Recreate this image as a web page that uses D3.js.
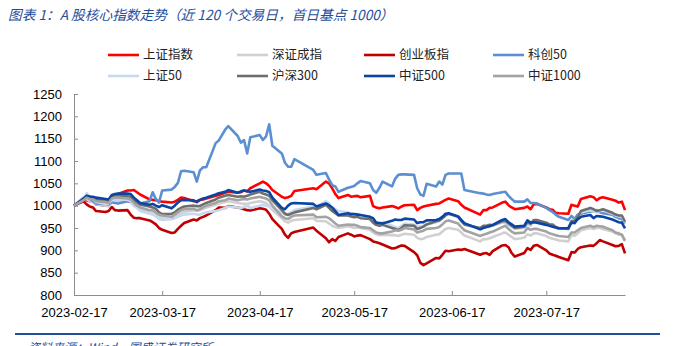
<!DOCTYPE html>
<html lang="zh">
<head>
<meta charset="UTF-8">
<title>A股核心指数走势</title>
<script src="https://d3js.org/d3.v7.min.js"></script>
<style>
  body{margin:0;background:#fff;}
  svg text{font-family:"Liberation Sans","Noto Sans CJK SC",sans-serif;}
  .axis path,.axis line{stroke:#8c8c8c;}
  .axis text{font-size:13px;fill:#000;}
  .legend text{font-family:"Noto Sans CJK SC",sans-serif;font-size:12.5px;fill:#222;}
</style>
</head>
<body>
<svg id="chart" width="684" height="346"></svg>
<script>
// trading calendar: weekdays between first and last day, minus exchange holidays
const firstDay = "2023-02-17", lastDay = "2023-08-11";
const holidays = ["2023-04-05","2023-05-01","2023-05-02","2023-05-03","2023-06-22","2023-06-23"];
const tickDates = ["2023-02-17","2023-03-17","2023-04-17","2023-05-17","2023-06-17","2023-07-17"];
const yTicks = [800,850,900,950,1000,1050,1100,1150,1200,1250];

const seriesNames = ["上证指数","深证成指","创业板指","科创50","上证50","沪深300","中证500","中证1000"];
const seriesColors = ["#ff0000","#d0d0d0","#c00000","#5b8fd1","#c6d9f1","#6e6e6e","#0a45a5","#a3a3a3"];

const shComp = [1000,1013,1012,1010,1012,1003,1000,1003,1020,1020,
  1026,1034,1034,1035,1030,1025,1014,1013,1012,1010,
  1009,1007,1009,1013,1018,1017,1010,1010,1013,1014,
  1016,1022,1024,1029,1031,1029,1030,1034,1032,1039,
  1050,1054,1050,1044,1035,1020,1017,1019,1022,1033,
  1039,1037,1054,1050,1039,1026,1017,1024,1020,1021,
  1022,1019,1022,999,996,994,996,999,997,994,
  998,1001,1002,990,995,998,1000,1004,1005,1009,
  1013,1016,1010,1002,996,980,990,990,995,996,
  1007,1009,1001,996,992,995,998,992,1003,1004,
  996,992,991,984,983,982,1002,1000,998,1015,
  1021,1019,1012,1017,1019,1013,1011,1007,1009,990];
const szComp = [1000,1014,1015,1010,1008,1003,1000,998,1008,1008,
  1010,1010,1008,1000,996,992,988,986,982,976,
  972,970,973,978,982,986,990,988,990,993,
  996,1002,1005,1008,1010,1006,1005,1004,1004,1006,
  1010,1008,1006,1000,990,972,965,962,966,968,
  972,966,965,960,955,952,950,954,952,950,
  951,950,946,940,936,934,935,934,934,932,
  935,937,935,928,925,926,930,935,936,942,
  948,950,946,940,933,920,925,925,927,930,
  938,940,935,930,925,928,936,933,938,938,
  932,928,926,924,922,920,934,933,938,945,
  950,948,950,950,948,942,938,935,935,920];
const chinext = [1000,1010,1003,998,996,988,986,988,997,990,
  989,990,980,973,972,972,967,963,958,950,
  946,939,940,948,955,961,969,967,972,975,
  978,990,996,995,999,996,994,992,990,989,
  994,993,991,982,970,948,935,928,938,941,
  951,944,927,918,925,921,930,938,935,931,
  933,934,925,920,918,916,913,904,905,908,
  911,910,896,889,872,867,871,883,882,890,
  899,898,902,901,903,890,893,894,890,898,
  911,912,907,894,886,894,905,901,910,912,
  900,893,890,888,885,878,896,895,903,907,
  911,910,916,923,920,912,909,910,914,893];
const star50 = [1000,1018,1022,1015,1010,1005,1004,1003,1008,1006,
  1005,1010,1008,1012,1008,1005,1010,1030,1015,1007,
  1034,1036,1042,1051,1077,1078,1075,1054,1079,1086,
  1086,1140,1146,1170,1178,1156,1141,1147,1117,1153,
  1158,1147,1155,1182,1134,1117,1096,1087,1087,1104,
  1080,1069,1073,1059,1046,1043,1031,1040,1042,1044,
  1050,1055,1050,1035,1029,1040,1054,1043,1060,1069,
  1070,1070,1069,1039,1025,1022,1049,1043,1054,1047,
  1069,1072,1072,1072,1035,1028,1027,1025,1024,1026,
  1030,1031,1022,1015,1009,1009,1014,1006,1006,1005,
  995,990,986,980,975,968,977,970,980,982,
  987,987,990,985,983,980,975,972,970,960];
const sse50 = [1000,1015,1028,1020,1015,1008,1004,1005,1012,1012,
  1015,1013,1010,1000,995,988,982,980,976,970,
  968,970,972,975,978,980,982,980,980,983,
  985,988,990,995,998,996,995,997,1000,995,
  1000,1002,1000,998,993,985,980,982,985,990,
  998,998,1010,1005,995,992,988,985,983,980,
  982,978,975,968,962,960,963,955,952,950,
  955,960,958,952,954,955,958,963,965,972,
  980,982,975,965,958,948,952,952,954,955,
  962,962,957,952,948,950,958,955,965,965,
  958,955,955,950,950,948,968,967,975,985,
  990,987,985,988,990,982,978,976,975,962];
const csi300 = [1000,1015,1022,1020,1018,1014,1011,1010,1020,1021,
  1022,1021,1020,1012,1007,1002,998,996,993,985,
  981,982,985,991,995,998,1000,999,999,1003,
  1006,1014,1018,1022,1024,1020,1021,1020,1022,1025,
  1031,1027,1025,1022,1012,990,982,979,982,985,
  995,992,1002,995,988,983,978,978,976,974,
  975,972,970,962,957,955,957,950,948,945,
  950,956,955,948,950,953,958,965,967,972,
  978,982,975,966,958,950,955,955,957,956,
  965,966,960,955,950,953,963,959,968,968,
  962,958,958,952,950,948,965,966,975,988,
  995,992,988,990,992,984,980,978,978,964];
const csi500 = [1000,1015,1022,1020,1020,1018,1015,1014,1024,1026,
  1027,1027,1026,1018,1012,1006,1002,1004,1000,997,
  1001,994,1000,1007,1012,1013,1012,1008,1013,1016,
  1018,1025,1028,1031,1035,1029,1032,1034,1032,1031,
  1036,1034,1033,1030,1018,995,992,1000,1005,1006,
  1004,998,1005,1001,996,988,979,983,981,981,
  980,979,975,972,962,961,960,966,969,968,
  968,971,969,961,963,963,967,968,970,975,
  982,983,976,968,961,947,950,952,954,957,
  968,970,963,958,953,955,967,962,963,962,
  957,955,953,951,949,950,962,961,970,975,
  979,972,977,976,975,969,966,963,962,949];
const csi1000 = [1000,1012,1018,1015,1014,1010,1008,1006,1016,1018,
  1018,1016,1014,1006,1000,996,990,990,985,980,
  978,975,980,985,990,992,993,990,992,996,
  1000,1006,1010,1012,1016,1012,1014,1015,1014,1016,
  1020,1018,1016,1012,1000,976,972,970,975,978,
  980,974,975,972,966,960,955,958,957,957,
  955,952,950,945,940,938,938,942,945,944,
  946,950,947,940,942,944,948,950,952,958,
  965,967,960,952,945,932,935,937,940,942,
  952,955,948,942,938,940,950,946,948,948,
  942,938,936,934,932,930,940,940,945,950,
  955,952,955,954,953,945,940,938,935,922];

const seriesValues = [shComp, szComp, chinext, star50, sse50, csi300, csi500, csi1000];

const parse = d3.timeParse("%Y-%m-%d");
const fmt = d3.timeFormat("%Y-%m-%d");
const holidaySet = new Set(holidays);
const dates = d3.timeDay.range(parse(firstDay), d3.timeDay.offset(parse(lastDay), 1))
  .filter(d => d.getDay() > 0 && d.getDay() < 6 && !holidaySet.has(fmt(d)));

const svg = d3.select("#chart");
svg.append("rect").attr("width", 684).attr("height", 346).attr("fill", "#fff");

const x = d3.scaleTime().domain([dates[0], dates[dates.length - 1]]).range([74, 625]);
const y = d3.scaleLinear().domain([800, 1250]).range([295, 94]);

// title
svg.append("text")
  .attr("x", 8).attr("y", 20)
  .style("font-family", "'Noto Sans CJK SC',sans-serif")
  .style("font-size", "13.7px").style("font-style", "italic")
  .attr("fill", "#1f4e9a")
  .text("图表 1：A 股核心指数走势（近 120 个交易日，首日基点 1000）");

// axes
svg.append("g").attr("class", "axis")
  .attr("transform", "translate(74,0)")
  .call(d3.axisLeft(y).tickValues(yTicks).tickSizeInner(-4).tickSizeOuter(0).tickPadding(12).tickFormat(d3.format("d")));

svg.append("g").attr("class", "axis")
  .attr("transform", "translate(0,295)")
  .call(d3.axisBottom(x).tickValues(tickDates.map(parse)).tickSizeInner(-4).tickSizeOuter(0).tickPadding(13).tickFormat(fmt));

// index lines
const line = d3.line().x((d, i) => x(dates[i])).y(d => y(d));
svg.append("g").selectAll("path")
  .data(seriesValues)
  .join("path")
  .attr("fill", "none")
  .attr("stroke", (d, i) => seriesColors[i])
  .attr("stroke-width", 2.6)
  .attr("stroke-linejoin", "round")
  .attr("d", line);

// legend, two rows of four
const colX = [108, 237, 364, 493], rowY = [55, 76];
const legend = svg.append("g").attr("class", "legend")
  .selectAll("g").data(seriesNames).join("g")
  .attr("transform", (d, i) => `translate(${colX[i % 4]},${rowY[Math.floor(i / 4)]})`);
legend.append("line").attr("x1", 0).attr("x2", 31)
  .attr("stroke", (d, i) => seriesColors[i]).attr("stroke-width", 2.6);
legend.append("text").attr("x", 35).attr("dy", "0.35em").text(d => d);

// footer rule and source note
svg.append("line").attr("x1", 15).attr("x2", 660).attr("y1", 334).attr("y2", 334)
  .attr("stroke", "#1f4e9a").attr("stroke-width", 2);
svg.append("text")
  .attr("x", 28).attr("y", 352)
  .style("font-family", "'Noto Sans CJK SC',sans-serif")
  .style("font-size", "12px").style("font-style", "italic")
  .attr("fill", "#1f4e9a")
  .text("资料来源：Wind，国盛证券研究所");
</script>
</body>
</html>
